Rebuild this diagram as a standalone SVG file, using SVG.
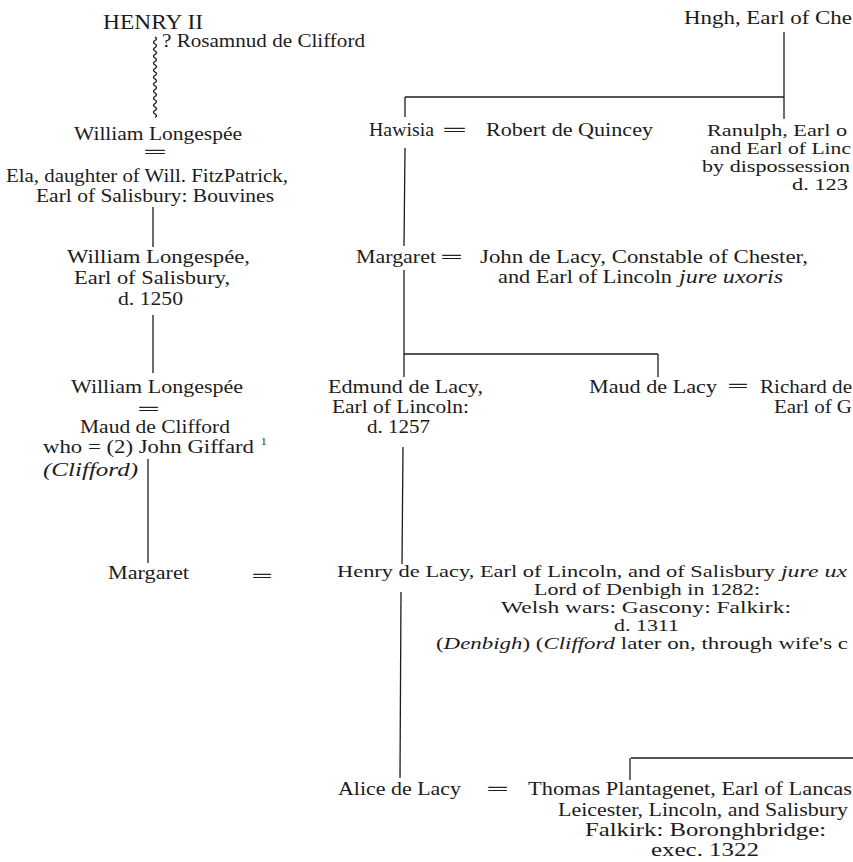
<svg xmlns="http://www.w3.org/2000/svg" width="853" height="862" viewBox="0 0 853 862">
<style>
.t{font-family:"Liberation Serif","Times New Roman","DejaVu Serif",serif;font-size:19px;fill:#1c1c1c}
.s{font-size:17px}
.i{font-style:italic}
.eq{font-family:"Liberation Serif","Times New Roman","DejaVu Serif",serif;font-size:14px;fill:#1c1c1c;stroke:#1c1c1c;stroke-width:0.5}
.sup{font-family:"Liberation Serif","Times New Roman","DejaVu Serif",serif;font-size:11px;fill:#1c1c1c}
.ln{stroke:#1c1c1c;stroke-width:1.3;fill:none}
</style>
<rect width="853" height="862" fill="#ffffff"/>
<g id="connectors">
<path class="ln" d="M155,37 q3,1.75 0,3.5 t0,3.5 t0,3.5 t0,3.5 t0,3.5 t0,3.5 t0,3.5 t0,3.5 t0,3.5 t0,3.5 t0,3.5 t0,3.5 t0,3.5 t0,3.5 t0,3.5 t0,3.5 t0,3.5 t0,3.5 t0,3.5 t0,3.5 t0,3.5 t0,3.5 t0,3.5"/>
<line class="ln" x1="153" y1="207" x2="153" y2="247"/>
<line class="ln" x1="153" y1="315" x2="153" y2="373"/>
<line class="ln" x1="148" y1="459" x2="148" y2="563"/>
<line class="ln" x1="784" y1="32" x2="784" y2="119"/>
<line class="ln" x1="405" y1="97" x2="784" y2="97"/>
<line class="ln" x1="405" y1="97" x2="405" y2="117"/>
<line class="ln" x1="405" y1="148" x2="404" y2="246"/>
<line class="ln" x1="404" y1="270" x2="404" y2="377"/>
<line class="ln" x1="404" y1="354" x2="658" y2="354"/>
<line class="ln" x1="658" y1="354" x2="658" y2="377"/>
<line class="ln" x1="403" y1="447" x2="402" y2="564"/>
<line class="ln" x1="401" y1="592" x2="400" y2="778"/>
<line class="ln" x1="631" y1="758" x2="853" y2="758"/>
<line class="ln" x1="630" y1="758" x2="630" y2="780"/>
<text class="eq" x="144" y="157" textLength="22" lengthAdjust="spacingAndGlyphs">=</text>
<text class="eq" x="138" y="414" textLength="21" lengthAdjust="spacingAndGlyphs">=</text>
<text class="eq" x="252" y="581" textLength="20" lengthAdjust="spacingAndGlyphs">=</text>
<text class="eq" x="443" y="135" textLength="23" lengthAdjust="spacingAndGlyphs">=</text>
<text class="eq" x="441" y="262" textLength="21" lengthAdjust="spacingAndGlyphs">=</text>
<text class="eq" x="728" y="391" textLength="20" lengthAdjust="spacingAndGlyphs">=</text>
<text class="eq" x="487" y="794" textLength="21" lengthAdjust="spacingAndGlyphs">=</text>
</g>
<g id="n-henry2"><text class="t" x="103" y="29" textLength="100" lengthAdjust="spacingAndGlyphs" style="font-size:20px">HENRY II</text></g>
<g id="n-rosamund"><text class="t" x="162" y="47" textLength="203" lengthAdjust="spacingAndGlyphs">? Rosamnud de Clifford</text></g>
<g id="n-william1"><text class="t" x="74" y="140" textLength="168" lengthAdjust="spacingAndGlyphs">William Longespée</text></g>
<g id="n-ela">
<text class="t" x="6" y="182" textLength="282" lengthAdjust="spacingAndGlyphs">Ela, daughter of Will. FitzPatrick,</text>
<text class="t" x="36" y="202" textLength="238" lengthAdjust="spacingAndGlyphs">Earl of Salisbury: Bouvines</text>
</g>
<g id="n-william2">
<text class="t" x="67" y="263" textLength="183" lengthAdjust="spacingAndGlyphs">William Longespée,</text>
<text class="t" x="74" y="284" textLength="156" lengthAdjust="spacingAndGlyphs">Earl of Salisbury,</text>
<text class="t" x="118" y="305" textLength="65" lengthAdjust="spacingAndGlyphs">d. 1250</text>
</g>
<g id="n-william3"><text class="t" x="71" y="393" textLength="172" lengthAdjust="spacingAndGlyphs">William Longespée</text></g>
<g id="n-maud-clifford">
<text class="t" x="80" y="433" textLength="150" lengthAdjust="spacingAndGlyphs">Maud de Clifford</text>
<text class="t" x="43" y="453" textLength="211" lengthAdjust="spacingAndGlyphs">who = (2) John Giffard</text>
<text class="sup" x="261" y="445">1</text>
<text class="t i" x="43" y="476" textLength="95" lengthAdjust="spacingAndGlyphs">(Clifford)</text>
</g>
<g id="n-margaret-l"><text class="t" x="108" y="579" textLength="81" lengthAdjust="spacingAndGlyphs">Margaret</text></g>
<g id="n-hugh"><text class="t" x="684" y="24" textLength="168" lengthAdjust="spacingAndGlyphs">Hngh, Earl of Che</text></g>
<g id="n-hawisia"><text class="t" x="369" y="136" textLength="65" lengthAdjust="spacingAndGlyphs">Hawisia</text></g>
<g id="n-robert"><text class="t" x="486" y="136" textLength="167" lengthAdjust="spacingAndGlyphs">Robert de Quincey</text></g>
<g id="n-ranulph">
<text class="t s" x="707" y="136" textLength="140" lengthAdjust="spacingAndGlyphs">Ranulph, Earl o</text>
<text class="t s" x="710" y="154" textLength="141" lengthAdjust="spacingAndGlyphs">and Earl of Linc</text>
<text class="t s" x="702" y="172" textLength="148" lengthAdjust="spacingAndGlyphs">by dispossession</text>
<text class="t s" x="792" y="190" textLength="56" lengthAdjust="spacingAndGlyphs">d. 123</text>
</g>
<g id="n-margaret-q"><text class="t" x="356" y="263" textLength="80" lengthAdjust="spacingAndGlyphs">Margaret</text></g>
<g id="n-john-lacy">
<text class="t" x="480" y="263" textLength="328" lengthAdjust="spacingAndGlyphs">John de Lacy, Constable of Chester,</text>
<text class="t" x="498" y="283" textLength="174" lengthAdjust="spacingAndGlyphs">and Earl of Lincoln</text>
<text class="t i" x="679" y="283" textLength="104" lengthAdjust="spacingAndGlyphs">jure uxoris</text>
</g>
<g id="n-edmund">
<text class="t" x="328" y="393" textLength="155" lengthAdjust="spacingAndGlyphs">Edmund de Lacy,</text>
<text class="t" x="332" y="413" textLength="137" lengthAdjust="spacingAndGlyphs">Earl of Lincoln:</text>
<text class="t" x="367" y="433" textLength="63" lengthAdjust="spacingAndGlyphs">d. 1257</text>
</g>
<g id="n-maud-lacy"><text class="t" x="589" y="393" textLength="128" lengthAdjust="spacingAndGlyphs">Maud de Lacy</text></g>
<g id="n-richard">
<text class="t" x="760" y="393" textLength="92" lengthAdjust="spacingAndGlyphs">Richard de</text>
<text class="t" x="774" y="413" textLength="78" lengthAdjust="spacingAndGlyphs">Earl of G</text>
</g>
<g id="n-henry-lacy">
<text class="t s" x="337" y="577" textLength="438" lengthAdjust="spacingAndGlyphs">Henry de Lacy, Earl of Lincoln, and of Salisbury</text>
<text class="t s i" x="781" y="577" textLength="66" lengthAdjust="spacingAndGlyphs">jure ux</text>
<text class="t s" x="534" y="595" textLength="226" lengthAdjust="spacingAndGlyphs">Lord of Denbigh in 1282:</text>
<text class="t s" x="501" y="613" textLength="290" lengthAdjust="spacingAndGlyphs">Welsh wars: Gascony: Falkirk:</text>
<text class="t s" x="614" y="631" textLength="65" lengthAdjust="spacingAndGlyphs">d. 1311</text>
<text class="t s" x="436" y="649" textLength="412" lengthAdjust="spacingAndGlyphs">(<tspan class="i">Denbigh</tspan>) (<tspan class="i">Clifford</tspan> later on, through wife's c</text>
</g>
<g id="n-alice"><text class="t" x="338" y="795" textLength="123" lengthAdjust="spacingAndGlyphs">Alice de Lacy</text></g>
<g id="n-thomas">
<text class="t" x="528" y="795" textLength="324" lengthAdjust="spacingAndGlyphs">Thomas Plantagenet, Earl of Lancas</text>
<text class="t" x="558" y="816" textLength="290" lengthAdjust="spacingAndGlyphs">Leicester, Lincoln, and Salisbury</text>
<text class="t" x="585" y="836" textLength="241" lengthAdjust="spacingAndGlyphs">Falkirk: Boronghbridge:</text>
<text class="t" x="651" y="856" textLength="108" lengthAdjust="spacingAndGlyphs">exec. 1322</text>
</g>
</svg>
